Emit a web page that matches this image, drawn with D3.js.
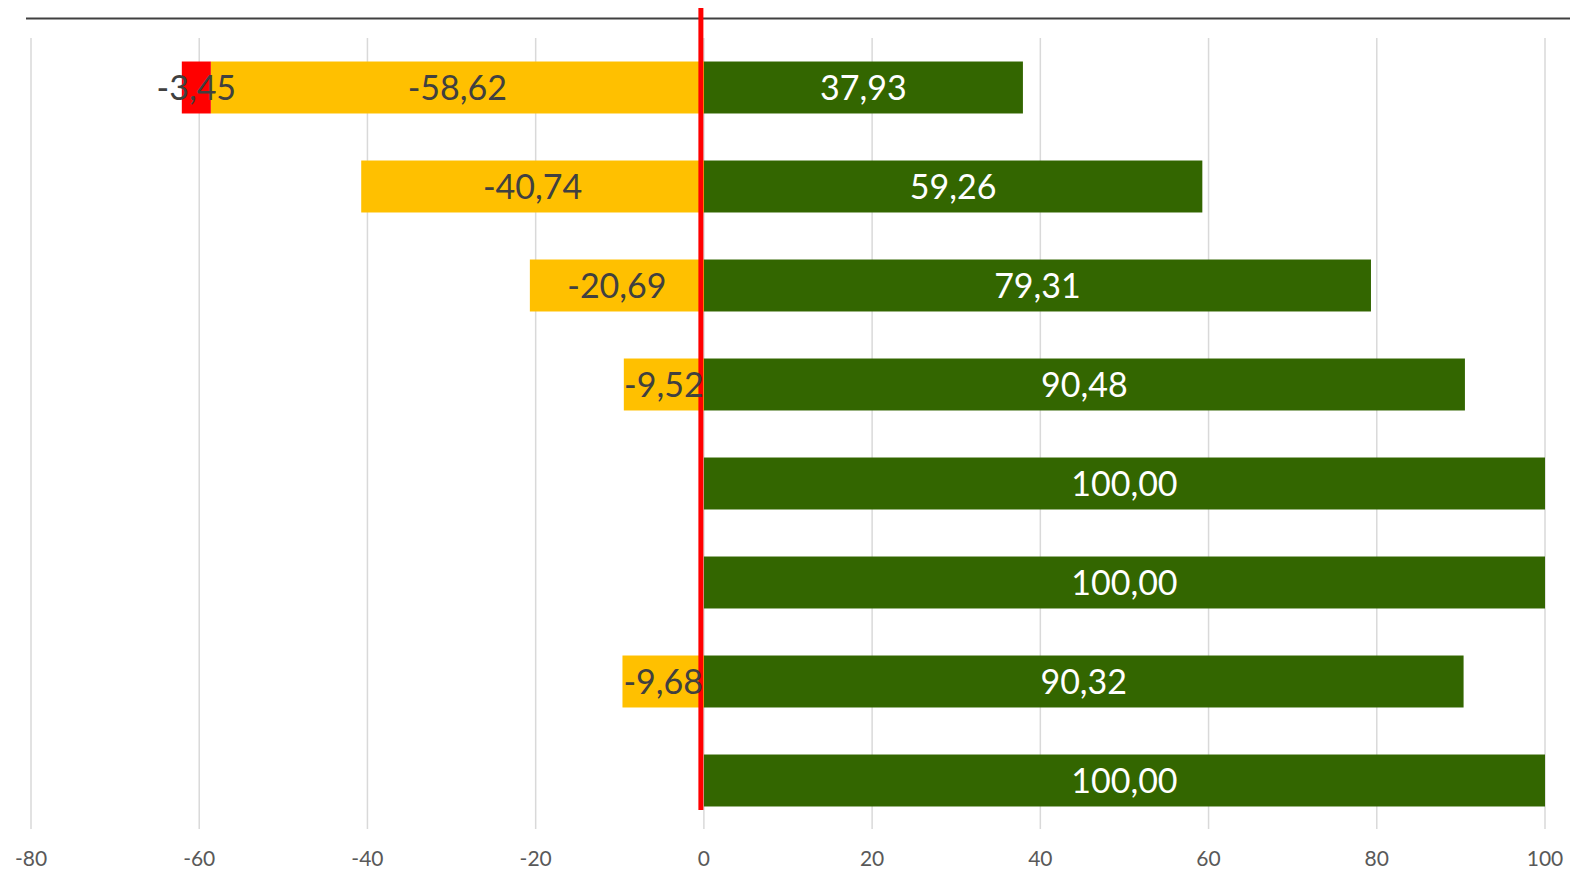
<!DOCTYPE html>
<html><head><meta charset="utf-8">
<script src="https://cdn.jsdelivr.net/npm/d3@7"></script>
<style>body{margin:0;background:#fff}svg{display:block}</style>
</head><body>
<svg id="c" width="1570" height="872"></svg>
<script>
const categories = ["C1","C2","C3","C4","C5","C6","C7","C8"];
const positiveValues = [37.93, 59.26, 79.31, 90.48, 100.00, 100.00, 90.32, 100.00];
const neutralValues = [-58.62, -40.74, -20.69, -9.52, 0, 0, -9.68, 0];
const negativeValues = [-3.45, 0, 0, 0, 0, 0, 0, 0];
const tickValues = [-80, -60, -40, -20, 0, 20, 40, 60, 80, 100];

const svg = d3.select("#c");
const x = d3.scaleLinear().domain([-80, 100]).range([31, 1545]);
const y = d3.scaleBand().domain(categories).range([38, 830]).paddingInner(0.475).paddingOuter(0.2375);
const fmt = v => d3.format(".2f")(v).replace("\u2212", "-").replace(".", ",");

// gridlines
svg.append("g").selectAll("line").data(tickValues).join("line")
  .attr("x1", d => x(d)).attr("x2", d => x(d)).attr("y1", 38).attr("y2", 829)
  .attr("stroke", "#d9d9d9").attr("stroke-width", 1.5);

// tick labels
svg.append("g").selectAll("text").data(tickValues).join("text")
  .attr("x", d => x(d)).attr("y", 866).attr("text-anchor", "middle")
  .attr("font-family", "Lato, sans-serif").attr("font-size", 21).attr("fill", "#595959")
  .text(d => String(d));

// top line
svg.append("line").attr("x1", 26).attr("x2", 1570).attr("y1", 18.5).attr("y2", 18.5)
  .attr("stroke", "#404040").attr("stroke-width", 2);

const rows = categories.map((c, i) => ({c, pos: positiveValues[i], neu: neutralValues[i], neg: negativeValues[i]}));

const segs = [];
rows.forEach(r => {
  if (r.pos) segs.push({c: r.c, x0: 0, x1: r.pos, v: r.pos, fill: "#336600", tc: "#ffffff"});
  if (r.neu) segs.push({c: r.c, x0: r.neu, x1: 0, v: r.neu, fill: "#FFC000", tc: "#404040"});
  if (r.neg) segs.push({c: r.c, x0: r.neu + r.neg, x1: r.neu, v: r.neg, fill: "#FF0000", tc: "#404040"});
});

svg.append("g").selectAll("rect").data(segs).join("rect")
  .attr("x", d => x(d.x0)).attr("width", d => x(d.x1) - x(d.x0))
  .attr("y", d => y(d.c)).attr("height", y.bandwidth())
  .attr("fill", d => d.fill);

// zero line
svg.append("line").attr("x1", x(0) - 3).attr("x2", x(0) - 3).attr("y1", 8).attr("y2", 810)
  .attr("stroke", "#FF0000").attr("stroke-width", 5);

svg.append("g").selectAll("text").data(segs).join("text")
  .attr("x", d => (x(d.x0) + x(d.x1)) / 2).attr("y", d => y(d.c) + y.bandwidth() / 2)
  .attr("dy", "0.38em").attr("text-anchor", "middle")
  .attr("font-family", "Lato, sans-serif").attr("font-size", 34).attr("fill", d => d.tc)
  .text(d => fmt(d.v));
</script>
</body></html>
